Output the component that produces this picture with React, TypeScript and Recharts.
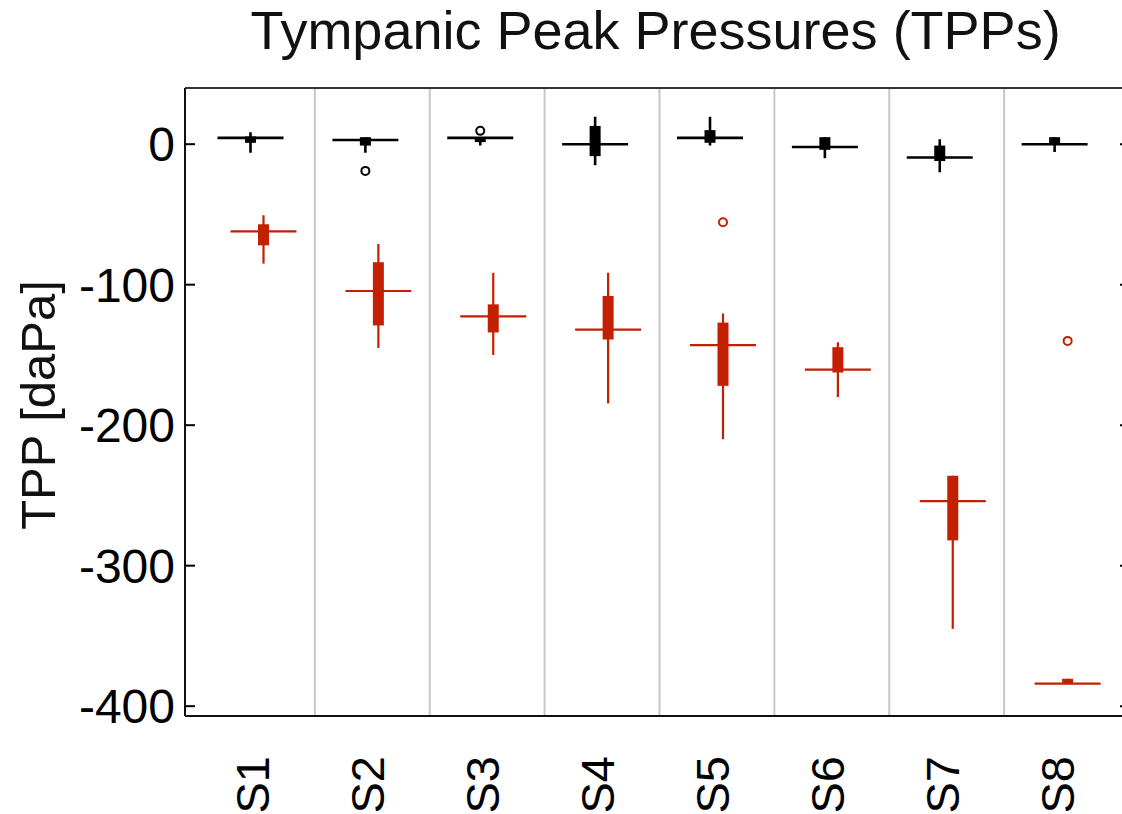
import { ComposedChart, Bar, XAxis, YAxis, CartesianGrid, ReferenceLine } from "recharts";

const categories = ["S1", "S2", "S3", "S4", "S5", "S6", "S7", "S8"];
const yTicks = [0, -100, -200, -300, -400];
const yDomain = [-407, 40];

// black boxes
const blackMin = [-6, -6, -1, -15, -1, -10, -20, -5.5];
const blackQ1 = [1, -1, 1.5, -8.5, 1, -4, -12, 0];
const blackMedian = [4.5, 3, 4.5, 0, 4.5, -2, -9.5, 0];
const blackQ3 = [5.5, 5, 5, 13, 10, 5, -1, 5];
const blackMax = [8.5, 5, 5, 19.5, 19.5, 5, 3.5, 5];
const blackOutliers = [[], [-19], [9.5], [], [], [], [], []];

// red boxes
const redMin = [-85, -145, -150, -184.5, -210, -180, -345, -384];
const redQ1 = [-72, -129, -134, -139, -172, -162.5, -282, -384];
const redMedian = [-62, -104.5, -122.5, -132, -143, -160.5, -254, -384];
const redQ3 = [-57, -84, -114, -108, -127, -144.5, -236, -380.5];
const redMax = [-50.5, -71, -91.5, -91.5, -120.5, -141, -236, -380.5];
const redOutliers = [[], [], [], [], [-55.5], [], [], [-140]];

const BLACK = "#000000";
const RED = "#c22000";
const FONT = "'Liberation Sans', Arial, sans-serif";
const PAD_L = 15;
const PAD_R = 11;

const data = categories.map((name, i) => ({
  name,
  black: [blackMin[i], blackMax[i]],
  red: [redMin[i], redMax[i]],
}));

type Stats = { min: number; q1: number; med: number; q3: number; max: number; out: number[] };

const blackStats: Stats[] = categories.map((_, i) => ({
  min: blackMin[i], q1: blackQ1[i], med: blackMedian[i], q3: blackQ3[i], max: blackMax[i], out: blackOutliers[i],
}));
const redStats: Stats[] = categories.map((_, i) => ({
  min: redMin[i], q1: redQ1[i], med: redMedian[i], q3: redQ3[i], max: redMax[i], out: redOutliers[i],
}));

function boxShape(stats: Stats[], color: string, lw: number) {
  return (props: any) => {
    const { x, y, width, height, index } = props;
    const s = stats[index];
    if (!s) return <g />;
    // bar spans [min, max]; map other values onto the same pixel range
    const pix = (v: number) => y + ((s.max - v) / (s.max - s.min)) * height;
    const cx = x + width / 2;
    const top = Math.min(pix(s.q3), pix(s.q1));
    const boxH = Math.max(Math.abs(pix(s.q1) - pix(s.q3)), 1);
    return (
      <g>
        <line x1={cx} x2={cx} y1={pix(s.max)} y2={pix(s.min)} stroke={color} strokeWidth={lw} />
        <rect x={x} y={top} width={width} height={boxH} fill={color} />
        <line x1={cx - 33} x2={cx + 33} y1={pix(s.med)} y2={pix(s.med)} stroke={color} strokeWidth={lw} />
        {s.out.map((o, k) => (
          <circle key={k} cx={cx} cy={pix(o)} r={4} fill="none" stroke={color} strokeWidth={2} />
        ))}
      </g>
    );
  };
}

// band boundaries between categories
function separators({ xAxis, offset }: any): number[] {
  try {
    const sc = xAxis && xAxis.scale;
    let f: ((v: string) => number) | null = null;
    if (typeof sc === "function") f = sc;
    else if (sc && typeof sc.map === "function") f = (v: string) => sc.map(v);
    if (f) {
      const pts = categories.slice(1).map((c) => f!(c));
      if (pts.every((p) => Number.isFinite(p))) return pts;
    }
  } catch (e) {
    // fall through
  }
  const band = (offset.width - PAD_L - PAD_R) / categories.length;
  return categories.slice(1).map((_, i) => offset.left + PAD_L + band * (i + 1));
}

const LeftTick = (props: any) => {
  const { x, y, payload } = props;
  return (
    <g>
      <line x1={x} x2={x + 10} y1={y} y2={y} stroke="#000" strokeWidth={2} />
      <text x={x - 10} y={y} dy={17} textAnchor="end" fontSize={48} fontFamily={FONT} fill="#000">
        {payload.value}
      </text>
    </g>
  );
};

const RightTick = (props: any) => {
  const { x, y } = props;
  return <line x1={x} x2={x - 10} y1={y} y2={y} stroke="#000" strokeWidth={2} />;
};

const BottomTick = (props: any) => {
  const { x, y, payload } = props;
  return (
    <text
      x={x}
      y={y}
      dy={12}
      transform={`rotate(-90, ${x}, ${y})`}
      textAnchor="end"
      fontSize={47}
      fontFamily={FONT}
      fill="#000"
    >
      {payload.value}
    </text>
  );
};

const YLabel = (props: any) => {
  const vb = props.viewBox || { x: 0, y: 88, width: 185, height: 628 };
  const lx = vb.x + 55;
  const ly = vb.y + vb.height / 2 + 3;
  return (
    <text
      x={lx}
      y={ly}
      transform={`rotate(-90, ${lx}, ${ly})`}
      textAnchor="middle"
      fontSize={49}
      fontFamily={FONT}
      fill="#111"
    >
      TPP [daPa]
    </text>
  );
};

export default function App() {
  return (
    <div
      style={{
        position: "fixed",
        left: 0,
        top: 0,
        width: 1122,
        height: 814,
        overflow: "hidden",
        background: "#fff",
      }}
    >
      <div
        style={{
          position: "absolute",
          left: 181,
          top: 3,
          width: 949,
          textAlign: "center",
          fontFamily: FONT,
          fontSize: 54,
          lineHeight: "54px",
          color: "#111",
          whiteSpace: "nowrap",
        }}
      >
        Tympanic Peak Pressures (TPPs)
      </div>
      <ComposedChart
        width={1150}
        height={814}
        data={data}
        margin={{ top: 88, right: 0, bottom: 0, left: 0 }}
        barSize={11}
        barGap={2}
      >
        <CartesianGrid
          horizontal={false}
          stroke="#c8c8c8"
          strokeWidth={2}
          verticalCoordinatesGenerator={separators}
        />
        <XAxis
          dataKey="name"
          height={98}
          padding={{ left: PAD_L, right: PAD_R }}
          interval={0}
          tickSize={0}
          tickMargin={40}
          tickLine={false}
          tick={BottomTick}
          axisLine={{ stroke: "#111", strokeWidth: 2 }}
        />
        <YAxis
          type="number"
          width={185}
          domain={yDomain}
          allowDataOverflow
          ticks={yTicks}
          tickSize={0}
          tickMargin={0}
          tickLine={false}
          tick={LeftTick}
          axisLine={{ stroke: "#111", strokeWidth: 2 }}
          label={{ content: YLabel }}
        />
        <YAxis
          yAxisId="right"
          orientation="right"
          type="number"
          width={20}
          domain={yDomain}
          allowDataOverflow
          ticks={yTicks}
          tickSize={0}
          tickMargin={0}
          tickLine={false}
          tick={RightTick}
          axisLine={{ stroke: "#111", strokeWidth: 2 }}
        />
        <ReferenceLine y={yDomain[1]} stroke="#333" strokeWidth={2} ifOverflow="visible" />
        <Bar
          dataKey="black"
          shape={boxShape(blackStats, BLACK, 2.6)}
          isAnimationActive={false}
        />
        <Bar
          dataKey="red"
          shape={boxShape(redStats, RED, 2.2)}
          isAnimationActive={false}
        />
      </ComposedChart>
    </div>
  );
}
